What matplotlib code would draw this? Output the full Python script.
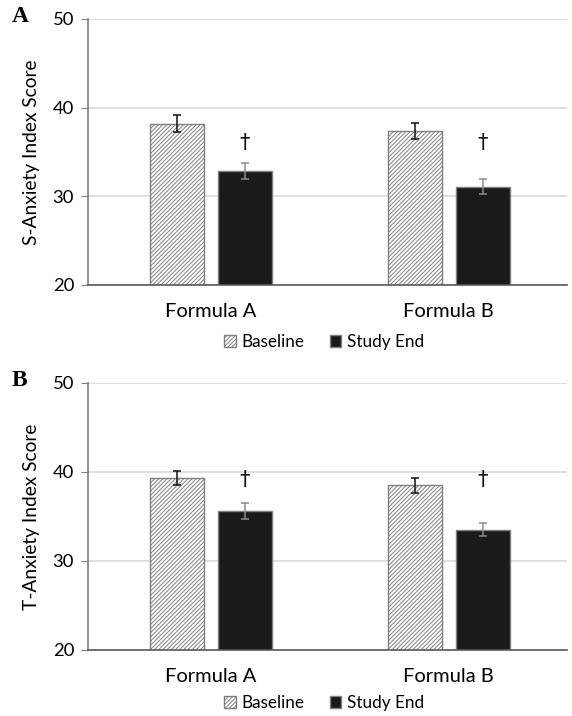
import matplotlib.pyplot as plt
import numpy as np
from matplotlib.patches import Patch

plt.rcParams['font.family'] = ['Lato', 'DejaVu Sans']
plt.rcParams['hatch.color'] = '#8a8a8a'
plt.rcParams['hatch.linewidth'] = 0.7

groups = ["Formula A", "Formula B"]
series = ["Baseline", "Study End"]

s_base = [38.2, 37.4]
s_base_err = [1.0, 0.9]
s_end = [32.85, 31.1]
s_end_err = [0.85, 0.8]
s_dagger = [36.0, 36.0]

t_base = [39.3, 38.5]
t_base_err = [0.8, 0.85]
t_end = [35.6, 33.5]
t_end_err = [0.85, 0.75]
t_dagger = [39.1, 39.1]

x = np.arange(len(groups))
w = 0.227
off = 0.143
hatch = '////////'

fig = plt.figure(figsize=(5.72, 7.16), dpi=100)
axA = fig.add_axes([0.1538, 0.602, 0.8372, 0.3715])
axB = fig.add_axes([0.1538, 0.0922, 0.8372, 0.3733])


def panel(ax, base, base_err, end, end_err, dag, ylab, letter, legy):
    ax.bar(x - off, base, w, color='white', edgecolor='#7f7f7f',
           hatch=hatch, linewidth=1, zorder=2)
    ax.bar(x + off, end, w, color='#1a1a1a', edgecolor='#7f7f7f',
           linewidth=1, zorder=2)
    ax.errorbar(x - off, base, yerr=base_err, fmt='none', ecolor='#111111',
                elinewidth=1.1, capsize=3, capthick=1.1, zorder=3)
    ax.errorbar(x + off, end, yerr=end_err, fmt='none', ecolor='#8c8c8c',
                elinewidth=1.1, capsize=3, capthick=1.1, zorder=3)
    for xi, d in zip(x, dag):
        ax.text(xi + off, d, '\u2020', ha='center', va='center', fontsize=15,
                family=['DejaVu Sans'], color='#111111')
    ax.set_ylim(20, 50)
    ax.set_xlim(-0.517, 1.497)
    ax.set_yticks([20, 30, 40, 50])
    ax.set_xticks(x)
    ax.set_xticklabels(groups, fontsize=14.5)
    ax.tick_params(axis='x', length=0, pad=13)
    ax.tick_params(axis='y', length=5, color='#7f7f7f', labelsize=13.3, pad=5)
    ax.yaxis.grid(True, color='#d9d9d9', linewidth=1.2, zorder=0)
    ax.set_axisbelow(True)
    for s in ['top', 'right']:
        ax.spines[s].set_visible(False)
    ax.spines['left'].set_color('#7f7f7f')
    ax.spines['left'].set_linewidth(1.2)
    ax.spines['bottom'].set_color('#595959')
    ax.spines['bottom'].set_linewidth(1.2)
    ax.set_ylabel(ylab, fontsize=13.8, labelpad=9)
    fig.text(0.021, ax.get_position().y1 + 0.003, letter, fontsize=17,
             fontweight='bold', family=['Liberation Serif'], va='center')
    handles = [Patch(facecolor='white', edgecolor='#7f7f7f', hatch=hatch, label=series[0]),
               Patch(facecolor='#1a1a1a', edgecolor='#7f7f7f', label=series[1])]
    fig.legend(handles=handles, loc='center', bbox_to_anchor=(0.566, legy), ncol=2,
               frameon=False, fontsize=12.3, handlelength=0.7, handleheight=0.7,
               handletextpad=0.3, columnspacing=1.5)


panel(axA, s_base, s_base_err, s_end, s_end_err, s_dagger,
      "S-Anxiety Index Score", "A", 1 - 342 / 716)
panel(axB, t_base, t_base_err, t_end, t_end_err, t_dagger,
      "T-Anxiety Index Score", "B", 1 - 703 / 716)

fig.savefig("out.png", dpi=100)
